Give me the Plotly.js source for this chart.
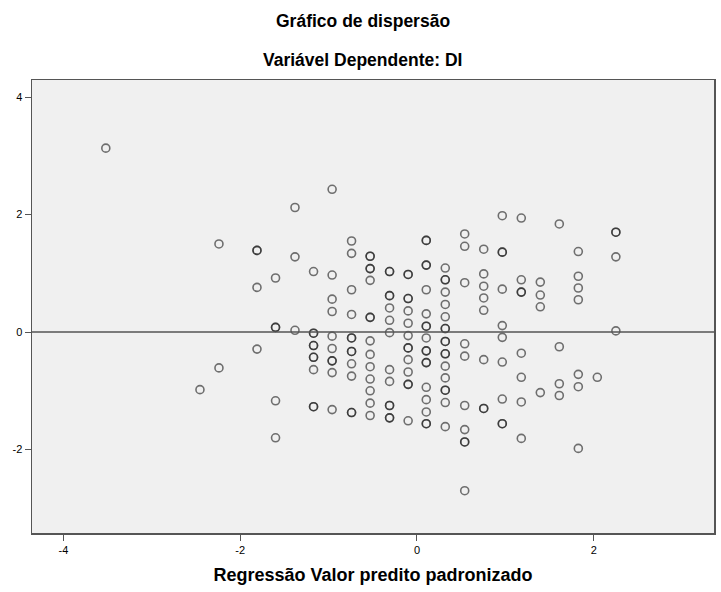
<!DOCTYPE html>
<html>
<head>
<meta charset="utf-8">
<script src="https://cdn.plot.ly/plotly-3.0.1.min.js"></script>
<style>
html,body{margin:0;padding:0;background:#fff;}
#chart{width:721px;height:592px;}
</style>
</head>
<body>
<div id="chart"></div>
<script>
// Predicted value columns (standardized) and residuals
var predX = [
  -3.52,
  -2.455,
  -2.24,-2.24,
  -1.81,-1.81,-1.81,-1.81,
  -1.60,-1.60,-1.60,-1.60,-1.60,
  -1.38,-1.38,-1.38,
  -1.17,-1.17,-1.17,-1.17,-1.17,-1.17,-1.17,-1.17,-1.17,-1.17,
  -0.96,-0.96,-0.96,-0.96,-0.96,-0.96,-0.96,-0.96,-0.96,-0.96,
  -0.74,-0.74,-0.74,-0.74,-0.74,-0.74,-0.74,-0.74,-0.74,-0.74,-0.74,-0.74,
  -0.53,-0.53,-0.53,-0.53,-0.53,-0.53,-0.53,-0.53,-0.53,-0.53,-0.53,-0.53,-0.53,-0.53,
  -0.31,-0.31,-0.31,-0.31,-0.31,-0.31,-0.31,-0.31,-0.31,-0.31,-0.31,-0.31,-0.31,
  -0.10,-0.10,-0.10,-0.10,-0.10,-0.10,-0.10,-0.10,-0.10,-0.10,-0.10,-0.10,-0.10,-0.10,
  0.105,0.105,0.105,0.105,0.105,0.105,0.105,0.105,0.105,0.105,0.105,0.105,0.105,0.105,0.105,0.105,0.105,0.105,
  0.32,0.32,0.32,0.32,0.32,0.32,0.32,0.32,0.32,0.32,0.32,0.32,0.32,0.32,0.32,0.32,0.32,0.32,
  0.54,0.54,0.54,0.54,0.54,0.54,0.54,0.54,0.54,0.54,
  0.755,0.755,0.755,0.755,0.755,0.755,0.755,0.755,
  0.965,0.965,0.965,0.965,0.965,0.965,0.965,0.965,0.965,0.965,
  1.18,1.18,1.18,1.18,1.18,1.18,1.18,1.18,
  1.395,1.395,1.395,1.395,
  1.61,1.61,1.61,1.61,
  1.825,1.825,1.825,1.825,1.825,1.825,1.825,
  2.04,
  2.25,2.25,2.25,2.25
];
var residY = [
  3.13,
  -0.98,
  1.50,-0.61,
  1.39,1.39,0.76,-0.29,
  0.92,0.08,0.08,-1.17,-1.80,
  2.12,1.28,0.03,
  1.03,-0.02,-0.02,-0.23,-0.23,-0.43,-0.43,-0.64,-1.27,-1.27,
  2.43,0.97,0.56,0.35,-0.07,-0.28,-0.49,-0.49,-0.69,-1.32,
  1.55,1.34,0.72,0.30,-0.10,-0.10,-0.33,-0.33,-0.54,-0.75,-1.37,-1.37,
  1.29,1.29,1.08,1.08,0.88,0.25,0.25,-0.15,-0.38,-0.59,-0.80,-1.00,-1.21,-1.42,
  1.03,1.03,0.62,0.62,0.41,0.20,-0.01,-0.64,-0.84,-1.25,-1.25,-1.46,-1.46,
  0.98,0.98,0.57,0.57,0.36,0.15,-0.06,-0.27,-0.27,-0.47,-0.68,-0.89,-0.89,-1.51,
  1.56,1.56,1.14,1.14,0.72,0.31,0.10,0.10,-0.10,-0.32,-0.32,-0.52,-0.52,-0.94,-1.15,-1.36,-1.56,-1.56,
  1.09,0.89,0.89,0.68,0.47,0.26,0.06,0.06,-0.16,-0.16,-0.37,-0.37,-0.58,-0.78,-0.99,-0.99,-1.20,-1.61,
  1.67,1.46,0.84,-0.20,-0.41,-1.25,-1.66,-1.87,-1.87,-2.70,
  1.41,0.99,0.78,0.58,0.37,-0.47,-1.30,-1.30,
  1.98,1.36,1.36,0.73,0.11,-0.09,-0.51,-1.14,-1.56,-1.56,
  1.94,0.89,0.68,0.68,-0.36,-0.77,-1.19,-1.81,
  0.85,0.63,0.43,-1.03,
  1.84,-0.25,-0.88,-1.08,
  1.37,0.95,0.75,0.55,-0.72,-0.93,-1.98,
  -0.77,
  1.70,1.70,1.28,0.02
];
var xTicks = [-4, -2, 0, 2];
var yTicks = [4, 2, 0, -2];
var titleMain = "Gráfico de dispersão";
var titleSub = "Variável Dependente: DI";
var xTitle = "Regressão Valor predito padronizado";

var trace = {
  type: "scatter",
  mode: "markers",
  x: predX,
  y: residY,
  marker: {
    symbol: "circle-open",
    size: 8,
    color: "rgba(30,30,30,0.62)",
    line: {width: 1.6, color: "rgba(30,30,30,0.62)"}
  },
  hoverinfo: "x+y"
};

var layout = {
  width: 721,
  height: 592,
  margin: {l: 32, r: 7, t: 80, b: 59},
  paper_bgcolor: "#ffffff",
  plot_bgcolor: "#f0f0f0",
  showlegend: false,
  font: {family: "Liberation Sans, Arial, sans-serif", size: 11, color: "#000"},
  xaxis: {
    range: [-4.355, 3.36],
    tickvals: xTicks,
    ticktext: xTicks.map(String),
    ticks: "outside",
    ticklen: 6,
    tickwidth: 1,
    tickcolor: "#555",
    showgrid: false,
    zeroline: false,
    showline: true,
    linecolor: "#555",
    linewidth: 1.5,
    mirror: true,
    tickfont: {size: 11, color: "#000"},
    title: {text: "<b>" + xTitle + "</b>", font: {size: 18, family: "Liberation Sans, Arial, sans-serif"}, standoff: 13}
  },
  yaxis: {
    range: [-3.42, 4.29],
    tickvals: yTicks,
    ticktext: yTicks.map(String),
    ticks: "outside",
    ticklen: 6,
    tickwidth: 1,
    tickcolor: "#555",
    showgrid: false,
    zeroline: false,
    showline: true,
    linecolor: "#555",
    linewidth: 1.5,
    mirror: true,
    tickfont: {size: 11, color: "#000"}
  },
  shapes: [{
    type: "line", xref: "paper", yref: "y",
    x0: 0, x1: 1, y0: 0, y1: 0,
    line: {color: "#555", width: 1.5}
  }],
  annotations: [
    {text: "<b>" + titleMain + "</b>", xref: "paper", yref: "paper", x: 0.485, y: 1, yshift: 59,
     showarrow: false, xanchor: "center", yanchor: "middle", font: {size: 17.5}},
    {text: "<b>" + titleSub + "</b>", xref: "paper", yref: "paper", x: 0.485, y: 1, yshift: 20,
     showarrow: false, xanchor: "center", yanchor: "middle", font: {size: 17.5}}
  ]
};

Plotly.newPlot("chart", [trace], layout, {displayModeBar: false, staticPlot: true});
</script>
</body>
</html>
